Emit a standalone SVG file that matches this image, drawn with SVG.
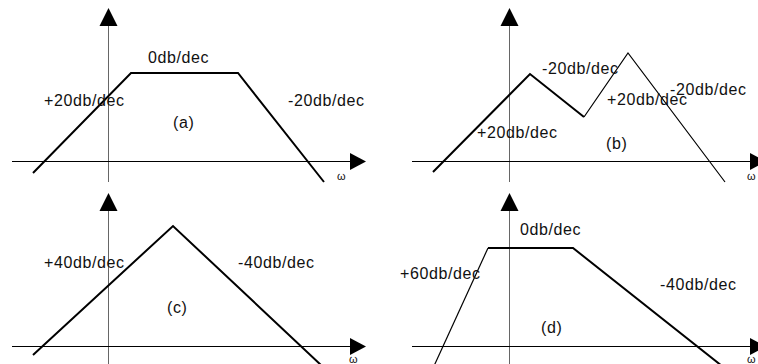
<svg xmlns="http://www.w3.org/2000/svg" width="758" height="364" viewBox="0 0 758 364">
<style>
.ax{stroke:#000;stroke-width:1;fill:none}
.axv{stroke:#666;stroke-width:1;fill:none}
.ah{fill:#000;stroke:none}
.cv{stroke:#000;stroke-width:2;fill:none;stroke-linejoin:miter}
.cvt{stroke:#000;stroke-width:1.2;fill:none}
.lb{font-family:"Liberation Sans",Arial,sans-serif;font-size:16px;letter-spacing:0.6px;fill:#111}
.om{font-family:"Liberation Sans",Arial,sans-serif;font-size:11px;fill:#111}
</style>
<rect width="758" height="364" fill="#fff"/>
<g id="panel-a">
<line class="axv" x1="108.5" y1="24" x2="108.5" y2="182"/>
<polygon class="ah" points="108.5,8 99.5,26 117.5,26"/>
<line class="ax" x1="12" y1="161.5" x2="352" y2="161.5"/>
<polygon class="ah" points="366,161.5 350,153 350,170"/>
<polyline class="cv" points="33,173 131,73 238,73 324,182"/>
<text class="lb" x="148" y="63">0db/dec</text>
<text class="lb" x="44" y="106">+20db/dec</text>
<text class="lb" x="288" y="106">-20db/dec</text>
<text class="lb" x="173" y="128">(a)</text>
<text class="om" x="337" y="180">ω</text>
</g>
<g id="panel-b">
<line class="axv" x1="509.5" y1="24" x2="509.5" y2="182"/>
<polygon class="ah" points="509.5,8 500.5,26 518.5,26"/>
<line class="ax" x1="412" y1="161.5" x2="752" y2="161.5"/>
<polygon class="ah" points="766,161.5 750,153 750,170"/>
<polyline class="cv" points="433,172 530,74 584,117"/>
<polyline class="cvt" points="584,117 628,53 725,182"/>
<text class="lb" x="542" y="74">-20db/dec</text>
<text class="lb" x="670" y="95">-20db/dec</text>
<text class="lb" x="607" y="105">+20db/dec</text>
<text class="lb" x="477" y="138">+20db/dec</text>
<text class="lb" x="606" y="149">(b)</text>
<text class="om" x="747" y="180">ω</text>
</g>
<g id="panel-c">
<line class="axv" x1="108.5" y1="209" x2="108.5" y2="364"/>
<polygon class="ah" points="108.5,193 99.5,211 117.5,211"/>
<line class="ax" x1="12" y1="346.5" x2="352" y2="346.5"/>
<polygon class="ah" points="366,346.5 350,338 350,355"/>
<polyline class="cv" points="33,355 173,226 322,366"/>
<text class="lb" x="44" y="268">+40db/dec</text>
<text class="lb" x="238" y="268">-40db/dec</text>
<text class="lb" x="167" y="313">(c)</text>
<text class="om" x="349" y="363">ω</text>
</g>
<g id="panel-d">
<line class="axv" x1="509.5" y1="209" x2="509.5" y2="364"/>
<polygon class="ah" points="509.5,193 500.5,211 518.5,211"/>
<line class="ax" x1="412" y1="346.5" x2="752" y2="346.5"/>
<polygon class="ah" points="766,346.5 750,338 750,355"/>
<polyline class="cvt" points="434,366 488,248"/>
<polyline class="cv" points="488,248 573,248 722,366"/>
<text class="lb" x="520" y="235">0db/dec</text>
<text class="lb" x="400" y="279">+60db/dec</text>
<text class="lb" x="660" y="290">-40db/dec</text>
<text class="lb" x="541" y="333">(d)</text>
<text class="om" x="747" y="363">ω</text>
</g>
</svg>
